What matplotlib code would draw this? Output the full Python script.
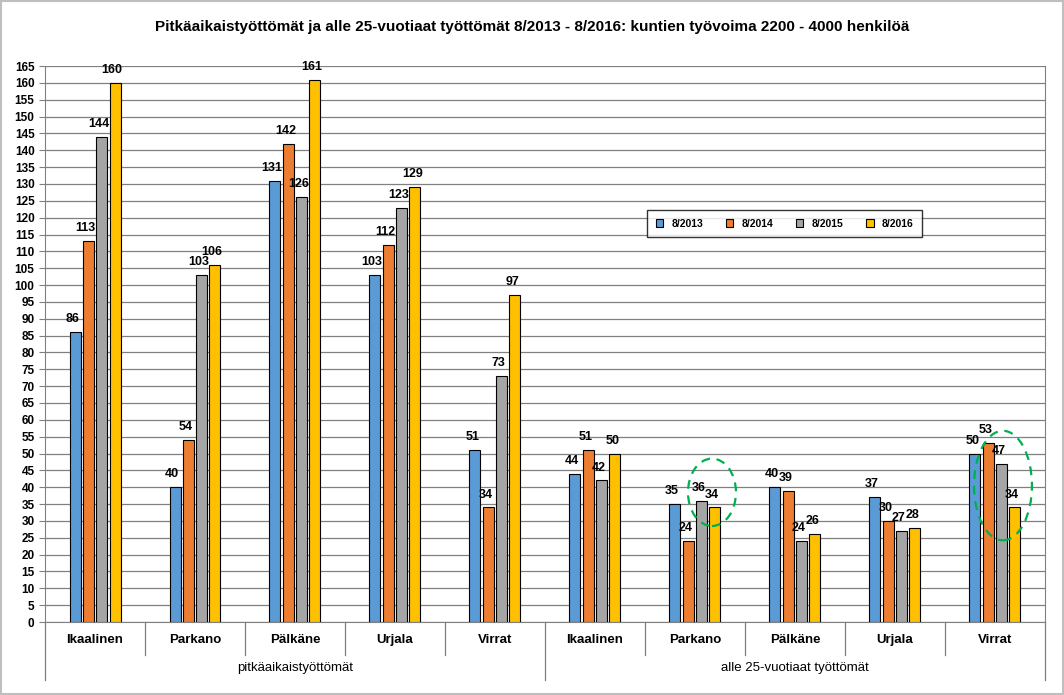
import matplotlib.pyplot as plt
import numpy as np
from matplotlib.patches import Ellipse, Rectangle
from matplotlib.transforms import blended_transform_factory

plt.rcParams['font.family'] = ['Liberation Sans', 'DejaVu Sans']

towns = ["Ikaalinen", "Parkano", "Pälkäne", "Urjala", "Virrat"]
groups = ["pitkäaikaistyöttömät", "alle 25-vuotiaat työttömät"]
years = ["8/2013", "8/2014", "8/2015", "8/2016"]

# pitkäaikaistyöttömät + alle 25-vuotiaat, per town
v2013 = [86, 40, 131, 103, 51, 44, 35, 40, 37, 50]
v2014 = [113, 54, 142, 112, 34, 51, 24, 39, 30, 53]
v2015 = [144, 103, 126, 123, 73, 42, 36, 24, 27, 47]
v2016 = [160, 106, 161, 129, 97, 50, 34, 26, 28, 34]
series = [v2013, v2014, v2015, v2016]
colors = ["#5B9BD5", "#ED7D31", "#A5A5A5", "#FFC000"]

fig = plt.figure(figsize=(10.64, 6.95), dpi=100)
fig.patches.append(Rectangle((0.001, 0.001), 0.998, 0.997, transform=fig.transFigure,
                             fill=False, ec='#BFBFBF', lw=1.5))
ax = fig.add_axes([0.0423, 0.105, 0.9398, 0.80])

n = len(v2013)
x = np.arange(n)
offs = [-0.2, -0.067, 0.067, 0.2]
for vals, c, o, lab in zip(series, colors, offs, years):
    bars = ax.bar(x + o, vals, width=0.11, color=c, edgecolor='black', lw=0.8, label=lab, zorder=3)
    for b, v in zip(bars, vals):
        ax.annotate(str(v), (b.get_x() + b.get_width() / 2, v), xytext=(-2, 5),
                    textcoords='offset points', ha='center', va='bottom',
                    fontsize=9, fontweight='bold', zorder=4)

ax.set_xlim(-0.5, n - 0.5)
ax.set_ylim(0, 165)
ax.set_yticks(np.arange(0, 166, 5))
ax.tick_params(axis='y', labelsize=8.5, length=4, color='#808080')
for t in ax.get_yticklabels():
    t.set_fontweight('bold')
ax.grid(axis='y', color='#808080', lw=0.9, zorder=0)
ax.set_axisbelow(True)
ax.set_xticks([])
ax.spines['top'].set_visible(False)
for s in ['left', 'right', 'bottom']:
    ax.spines[s].set_color('#808080')

# two-level category axis
tr = blended_transform_factory(ax.transData, ax.transAxes)
for i in range(n + 1):
    big = i % 5 == 0
    ax.plot([i - 0.5, i - 0.5], [0, -0.105 if big else -0.06], transform=tr,
            color='#808080', lw=0.9, clip_on=False)
for i, t in enumerate(towns * 2):
    ax.text(i, -0.032, t, transform=tr, ha='center', va='center', fontsize=9.5, fontweight='bold')
for j, g in enumerate(groups):
    ax.text(2 + 5 * j, -0.083, g, transform=tr, ha='center', va='center', fontsize=9.5)

# highlighted areas
ax.add_patch(Ellipse((6.17, 38.5), 0.48, 20, fill=False, ec='#00B050', ls=(0, (4, 3)), lw=1.6, zorder=5))
ax.add_patch(Ellipse((9.08, 40.5), 0.58, 32.5, fill=False, ec='#00B050', ls=(0, (4, 3)), lw=1.6, zorder=5))

leg = ax.legend(loc='upper left', bbox_to_anchor=(0.597, 0.75), ncol=4, fontsize=7.5,
                frameon=True, fancybox=False, edgecolor='black', handlelength=0.7,
                handleheight=0.7, columnspacing=2.2, borderpad=0.8)
leg.get_frame().set_linewidth(1)
for t in leg.get_texts():
    t.set_fontweight('bold')

fig.text(0.5, 0.961, "Pitkäaikaistyöttömät ja alle 25-vuotiaat työttömät 8/2013 - 8/2016: kuntien työvoima 2200 - 4000 henkilöä",
         ha='center', va='center', fontsize=11, fontweight='bold')

fig.savefig('out.png', dpi=100)
